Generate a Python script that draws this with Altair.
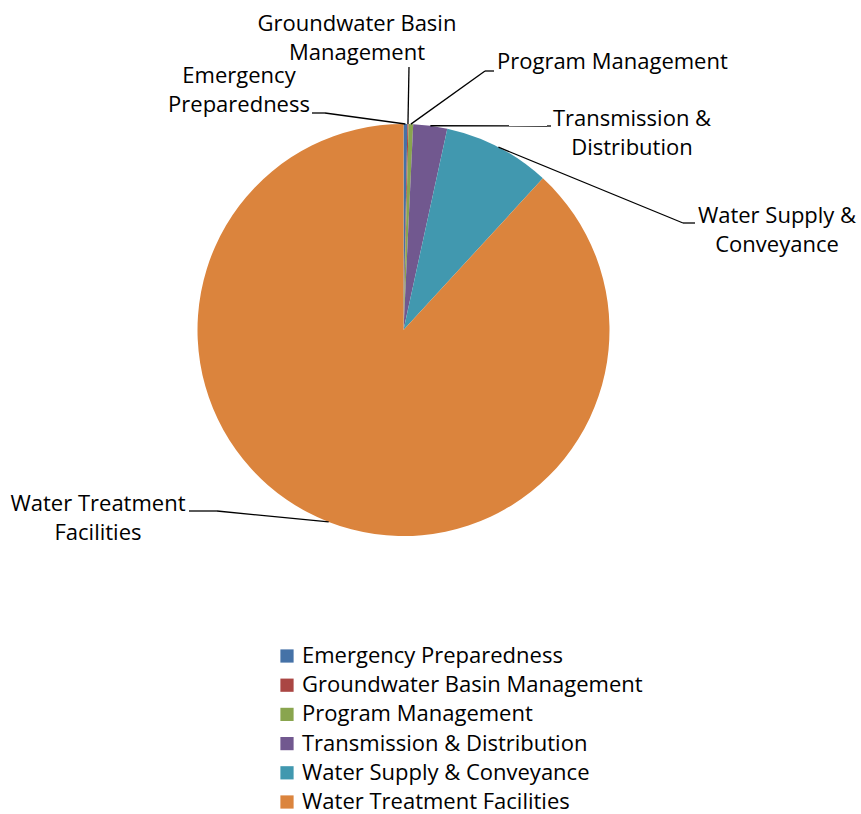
import altair as alt
import pandas as pd

# ---- data ----
categories = [
    "Emergency Preparedness",
    "Groundwater Basin Management",
    "Program Management",
    "Transmission & Distribution",
    "Water Supply & Conveyance",
    "Water Treatment Facilities",
]
shares = [0.30, 0.09, 0.36, 2.66, 8.42, 88.17]
label_text = [
    "Emergency\nPreparedness",
    "Groundwater Basin\nManagement",
    "Program Management",
    "Transmission &\nDistribution",
    "Water Supply &\nConveyance",
    "Water Treatment\nFacilities",
]
colors = ["#4572A7", "#AA4643", "#89A54E", "#71588F", "#4198AF", "#DB843D"]

# ---- layout (pixels) ----
CX, CY, R = 403.5, 330.0, 206.0
FONT = "Open Sans"
FS = 22
label_x = [239, 357, 497, 632, 777, 98]
label_y = [83, 31, 69, 126, 223, 511]  # baseline of first line
label_align = ["center", "center", "left", "center", "center", "center"]
elbow_x = [325, 409, 485, 547, 683, 217]
elbow_y = [113, 67, 71, 126, 223, 511]
stub_x = [312, 409, 494, 551, 695, 189]
stub_y = [113, 67, 71, 126, 223, 511]

df = pd.DataFrame({
    "idx": list(range(len(categories))),
    "category": categories,
    "value": shares,
    "label": label_text,
    "lx": label_x, "ly": label_y, "align": label_align,
    "ex": elbow_x, "ey": elbow_y, "sx": stub_x, "sy": stub_y,
})

base = alt.Chart(df)

pie = base.mark_arc(outerRadius=R).encode(
    theta=alt.Theta("value:Q", stack=True),
    order=alt.Order("idx:Q"),
    color=alt.Color(
        "category:N",
        scale=alt.Scale(domain=categories, range=colors),
        legend=alt.Legend(
            title=None,
            orient="none",
            legendX=276,
            legendY=645,
            symbolType="square",
            symbolSize=175,
            symbolStrokeWidth=0,
            labelFontSize=FS,
            labelFont=FONT,
            labelColor="black",
            labelOffset=4,
            rowPadding=7.2,
            padding=0,
            labelLimit=500,
        ),
    ),
    x=alt.value(CX),
    y=alt.value(CY),
)

geo = base.transform_window(
    cum="sum(value)", sort=[alt.SortField("idx")], frame=[None, 0]
).transform_joinaggregate(total="sum(value)").transform_calculate(
    mid="(datum.cum - datum.value/2) / datum.total",
).transform_calculate(
    px=f"{CX} + {R}*sin(2*PI*datum.mid)",
    py=f"{CY} - {R}*cos(2*PI*datum.mid)",
)

leader = geo.mark_rule(color="black", strokeWidth=1.3).encode(
    x=alt.X("px:Q", scale=None, axis=None),
    y=alt.Y("py:Q", scale=None, axis=None),
    x2="ex:Q",
    y2="ey:Q",
)
stub = base.mark_rule(color="black", strokeWidth=1.3).encode(
    x=alt.X("ex:Q", scale=None, axis=None),
    y=alt.Y("ey:Q", scale=None, axis=None),
    x2="sx:Q",
    y2="sy:Q",
)

def lbl(align):
    return base.transform_filter(alt.datum.align == align).mark_text(
        font=FONT, fontSize=FS, color="black", align=align,
        baseline="alphabetic", lineBreak="\n", lineHeight=28.5,
    ).encode(
        x=alt.X("lx:Q", scale=None, axis=None),
        y=alt.Y("ly:Q", scale=None, axis=None),
        text="label:N",
    )

chart = alt.layer(pie, leader, stub, lbl("center"), lbl("left")).properties(
    width=861, height=814, padding=0, autosize=alt.AutoSizeParams(type="none"),
    background="white",
).configure_view(stroke=None)

chart.save("out.html", embed_options={"renderer": "svg", "actions": False})
